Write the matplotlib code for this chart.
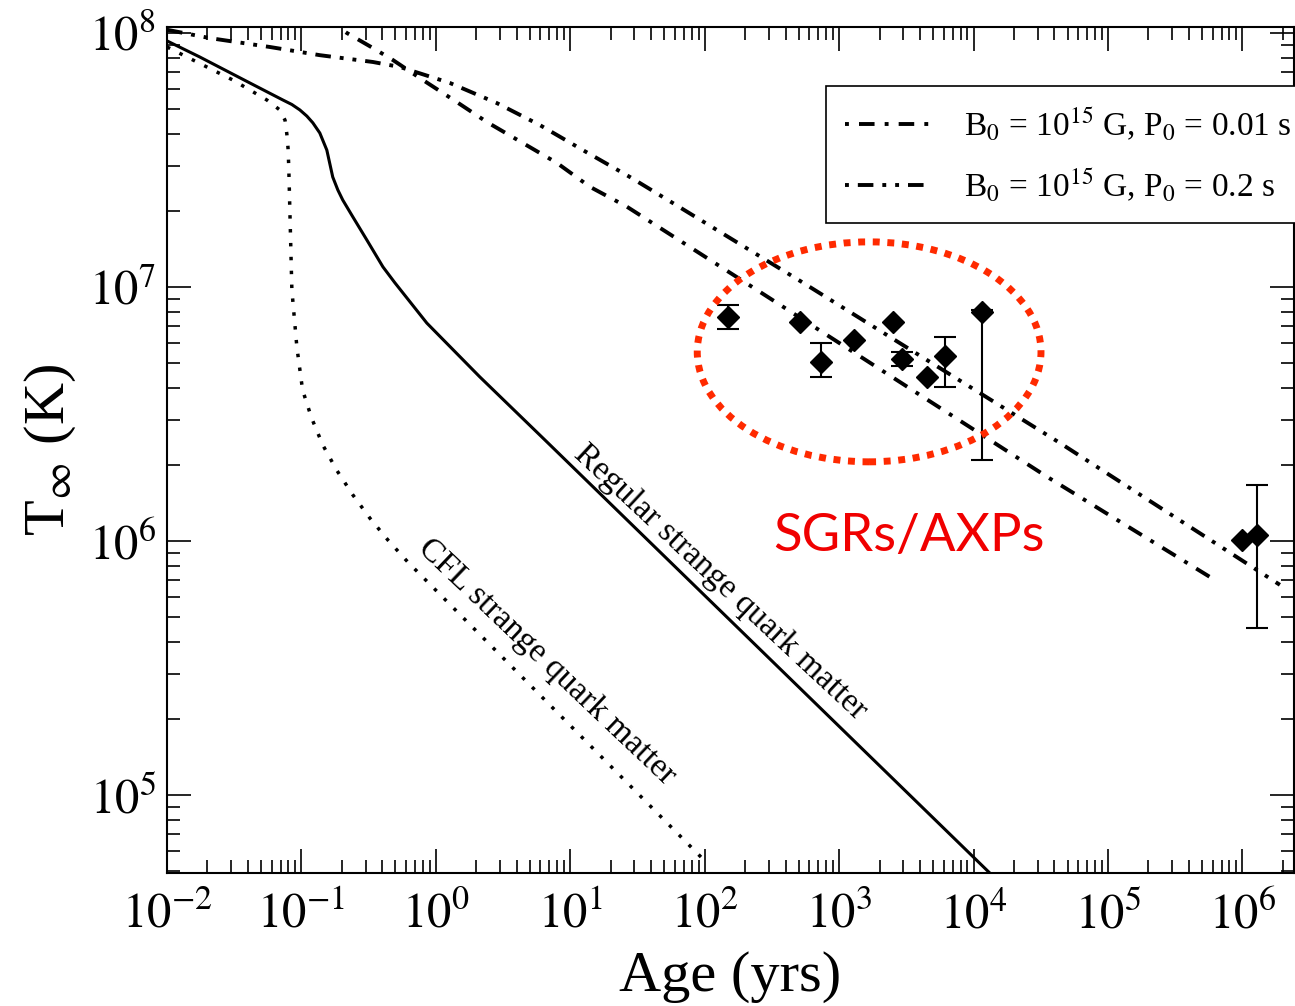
import numpy as np
import matplotlib.pyplot as plt
from matplotlib.lines import Line2D
from matplotlib.patches import Ellipse
from matplotlib.ticker import FixedLocator, LogLocator, NullFormatter

plt.rcParams['font.family'] = ['Liberation Serif', 'DejaVu Serif']
plt.rcParams['mathtext.fontset'] = 'stix'

# regular strange quark matter (solid)
reg_age = [0.01, 0.0175, 0.0413, 0.0727, 0.0849, 0.0973, 0.1097, 0.1216, 0.137, 0.1545, 0.171, 0.1866,
           0.203, 0.241, 0.307, 0.404, 0.495, 0.857, 2.12, 6.47, 1.32e4, 1.5e4]
reg_temp = [9.31e7, 8.05e7, 6.36e7, 5.45e7, 5.23e7, 4.98e7, 4.71e7, 4.43e7, 4.04e7, 3.46e7, 2.71e7, 2.41e7,
            2.20e7, 1.89e7, 1.53e7, 1.20e7, 1.04e7, 7.21e6, 4.43e6, 2.50e6, 4.93e4, 4.62e4]

# CFL strange quark matter (dotted)
cfl_age = [0.01, 0.0309, 0.0553, 0.069, 0.0755, 0.0779, 0.0795, 0.0805, 0.0849, 0.0925, 0.102, 0.119, 0.144,
           0.183, 0.241, 0.323, 0.439, 0.619, 102]
cfl_temp = [8.81e7, 6.53e7, 5.45e7, 4.98e7, 4.54e7, 4.00e7, 3.52e7, 2.97e7, 9.74e6, 5.80e6, 3.93e6, 3.05e6,
            2.39e6, 1.90e6, 1.52e6, 1.23e6, 1.01e6, 8.26e5, 5.45e4]

# B0 = 1e15 G, P0 = 0.01 s
p001_age = [0.149, 0.218, 0.340, 0.479, 0.760, 1.43, 2.40, 4.43, 7.95, 14.0, 26.4, 245, 3.52e4, 6.58e5]
p001_temp = [1.15e8, 1.0e8, 8.73e7, 7.83e7, 6.65e7, 5.35e7, 4.46e7, 3.69e7, 3.08e7, 2.48e7, 2.07e7,
             9.73e6, 1.79e6, 6.90e5]

# B0 = 1e15 G, P0 = 0.2 s
p02_age = [0.01, 0.0208, 0.0582, 0.137, 0.340, 0.540, 1.27, 2.84, 5.94, 12.4, 27.8, 58.0, 538, 4.40e4, 1.90e6]
p02_temp = [1.03e8, 9.55e7, 8.81e7, 8.18e7, 7.69e7, 7.35e7, 6.36e7, 5.30e7, 4.34e7, 3.46e7, 2.71e7,
            2.14e7, 1.04e7, 2.43e6, 6.72e5]

# SGRs / AXPs
nan = float('nan')
obs_age = [149, 511, 732, 1288, 2512, 2933, 4500, 6125, 1.16e4, 9.93e5, 1.28e6]
obs_temp = [7.62e6, 7.28e6, 5.07e6, 6.18e6, 7.28e6, 5.21e6, 4.43e6, 5.35e6, 7.98e6, 1.01e6, 1.06e6]
obs_hi = [8.49e6, nan, 6.02e6, nan, nan, 5.55e6, nan, 6.35e6, 8.12e6, nan, 1.66e6]
obs_lo = [6.84e6, nan, 4.43e6, nan, nan, 4.89e6, nan, 4.04e6, 2.08e6, nan, 4.54e5]

x_major = [1e-2, 1e-1, 1e0, 1e1, 1e2, 1e3, 1e4, 1e5, 1e6]
y_major = [1e5, 1e6, 1e7, 1e8]

W, H = 1295, 1006
fig = plt.figure(figsize=(W / 100, H / 100), dpi=100)
ax = fig.add_axes([167 / W, 1 - 873 / H, 1127 / W, 846 / H])
ax.set_xscale('log')
ax.set_yscale('log')

lw_dash = 2.8
ls_dd = (0, (4, 2.6, 1, 2.6))
ls_ddd = (0, (4, 2.3, 1, 2.3, 1, 2.3))

ax.plot(reg_age, reg_temp, color='black', lw=2.2)
ax.plot(cfl_age, cfl_temp, color='black', lw=2.5, linestyle=(0, (1, 3)))
ax.plot(p001_age, p001_temp, color='black', lw=lw_dash, linestyle=ls_dd)
ax.plot(p02_age, p02_temp, color='black', lw=lw_dash, linestyle=ls_ddd)

age = np.array(obs_age)
temp = np.array(obs_temp)
hi = np.array(obs_hi)
lo = np.array(obs_lo)
has_err = np.isfinite(hi)
ax.errorbar(age[has_err], temp[has_err], yerr=[temp[has_err] - lo[has_err], hi[has_err] - temp[has_err]],
            fmt='none', ecolor='black', elinewidth=1.5, capsize=8, capthick=1.5, zorder=4)
ax.plot(age, temp, 'D', color='black', markersize=11, zorder=5)

ax.set_xlim(1e-2, 2.42e6)
ax.set_ylim(4.93e4, 1.056e8)

ax.xaxis.set_major_locator(FixedLocator(x_major))
ax.yaxis.set_major_locator(FixedLocator(y_major))
for a in (ax.xaxis, ax.yaxis):
    a.set_minor_locator(LogLocator(base=10, subs=np.arange(2, 10), numticks=20))
    a.set_minor_formatter(NullFormatter())
ax.set_xticklabels([r'$10^{%d}$' % round(np.log10(v)) for v in x_major])
ax.set_yticklabels([r'$10^{%d}$' % round(np.log10(v)) for v in y_major])
ax.tick_params(which='both', direction='in', top=True, right=True, width=1.2)
ax.tick_params(which='major', length=17, labelsize=35)
ax.tick_params(axis='x', which='major', pad=14)
ax.tick_params(axis='y', which='major', pad=8)
ax.tick_params(which='minor', length=9.5)
for s in ax.spines.values():
    s.set_linewidth(1.5)

ax.set_xlabel('Age (yrs)', fontsize=42, labelpad=9)
ax.set_ylabel(r'T$_{\infty}$ (K)', fontsize=42, labelpad=8)

ax.text(0.491, 0.344, 'Regular strange quark matter', transform=ax.transAxes, fontsize=24,
        rotation=-43, rotation_mode='anchor', ha='center', va='center')
ax.text(0.337, 0.249, 'CFL strange quark matter', transform=ax.transAxes, fontsize=24,
        rotation=-43.5, rotation_mode='anchor', ha='center', va='center')

ax.add_patch(Ellipse((0.623, 0.616), 0.305, 0.260, transform=ax.transAxes, fill=False,
                     edgecolor='#ff2a00', lw=5, linestyle=(0, (1, 1.1)), zorder=6))
ax.text(0.538, 0.381, 'SGRs/AXPs', transform=ax.transAxes, fontsize=38, family='Lato',
        color='#f00000', va='baseline', ha='left')

handles = [Line2D([], [], color='black', lw=lw_dash, linestyle=(6.6, (4, 2.6, 1, 2.6))),
           Line2D([], [], color='black', lw=lw_dash, linestyle=(9.6, (4, 2.3, 1, 2.3, 1, 2.3)))]
labels = [r'B$_0$ = 10$^{15}$ G, P$_0$ = 0.01 s', r'B$_0$ = 10$^{15}$ G, P$_0$ = 0.2 s']
leg = ax.legend(handles, labels, loc='upper left', bbox_to_anchor=(826 / W, 1 - 86 / H),
                bbox_transform=fig.transFigure, borderaxespad=0, fontsize=24, frameon=True,
                fancybox=False, framealpha=1, edgecolor='black', handlelength=2.6,
                handletextpad=0.95, borderpad=0.58, labelspacing=0.7)
leg.get_frame().set_linewidth(1.2)

fig.savefig('out.png', dpi=100)
